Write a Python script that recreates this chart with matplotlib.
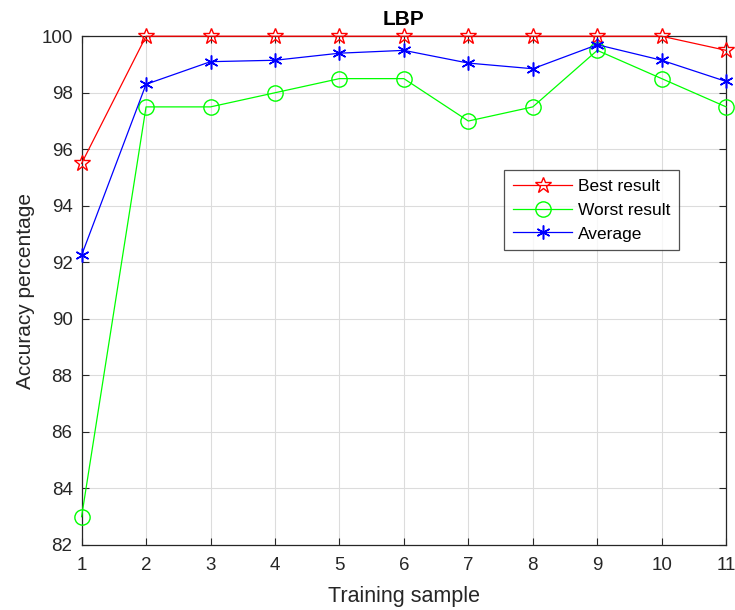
import matplotlib.pyplot as plt

plt.rcParams['font.family'] = ['Liberation Sans', 'DejaVu Sans']

# Data
samples = [1, 2, 3, 4, 5, 6, 7, 8, 9, 10, 11]
best = [95.5, 100, 100, 100, 100, 100, 100, 100, 100, 100, 99.5]
worst = [83, 97.5, 97.5, 98, 98.5, 98.5, 97, 97.5, 99.5, 98.5, 97.5]
average = [92.25, 98.3, 99.1, 99.15, 99.4, 99.5, 99.05, 98.85, 99.7, 99.15, 98.4]

fig = plt.figure(figsize=(7.35, 6.1), dpi=100)
ax = fig.add_axes([0.111, 0.1066, 0.877, 0.834])

ax.plot(samples, best, color='red', lw=0.9, marker='*', ms=12,
        mfc='none', mec='red', mew=1.0, label='Best result', clip_on=False, zorder=3)
ax.plot(samples, worst, color='#00ff00', lw=0.9, marker='o', ms=11,
        mfc='none', mec='#00ff00', mew=1.0, label='Worst result', clip_on=False, zorder=3)
ax.plot(samples, average, color='blue', lw=0.9, marker=(6, 2, 0), ms=10,
        mec='blue', mew=1.1, label='Average', clip_on=False, zorder=3)

ax.set_xlim(1, 11)
ax.set_ylim(82, 100)
ax.set_xticks(samples)
ax.set_yticks(range(82, 101, 2))
ax.tick_params(direction='in', labelsize=13.5, colors='#262626', length=5,
               top=True, right=True, labeltop=False, labelright=False)
ax.tick_params(axis='y', pad=6.5)
ax.tick_params(axis='x', pad=9)
ax.grid(True, color='#dcdcdc', lw=0.8)
for s in ax.spines.values():
    s.set_color('#262626')
    s.set_linewidth(0.9)

ax.set_title('LBP', fontsize=15, fontweight='bold', pad=8)
ax.set_xlabel('Training sample', fontsize=15.5, color='#262626', labelpad=8)
ax.set_ylabel('Accuracy percentage', fontsize=15, color='#262626', labelpad=4.5)

leg = ax.legend(loc='upper left', bbox_to_anchor=(0.656, 0.737), borderaxespad=0,
                fontsize=12.5, fancybox=False, edgecolor='#262626',
                handlelength=3.4, handletextpad=0.35, labelspacing=0.5, borderpad=0.5)
leg.get_frame().set_linewidth(0.9)

fig.savefig('out.png', dpi=100)
